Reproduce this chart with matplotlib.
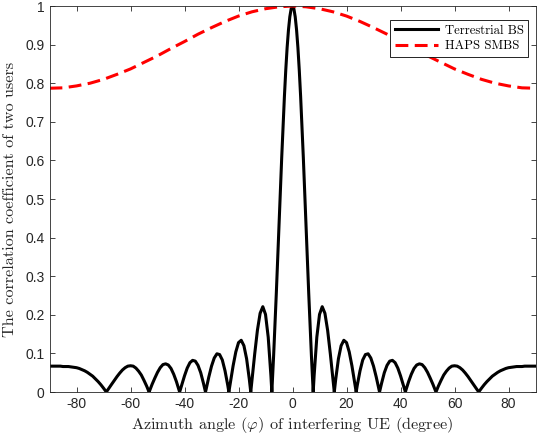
import numpy as np
import matplotlib
matplotlib.use("Agg")
import matplotlib.pyplot as plt

# azimuth angles (deg) for the terrestrial BS curve, positive half (curve is symmetric)
phi_half = [0, 0.5, 1, 1.5, 2, 2.5, 3, 4, 5, 6, 7, 7.66, 8, 9, 10, 11, 12, 13, 14, 15, 15.47,
            16, 17, 18, 19, 20, 21, 22, 23, 23.58, 24, 25, 26, 27, 28, 29, 30, 31, 32, 32.23,
            33, 34, 35, 36, 37, 38, 39, 40, 41, 41.81, 42, 43, 44, 45, 46, 47, 48, 49, 50,
            51, 52, 53, 53.13, 54, 55, 56, 57, 58, 59, 60, 61, 62, 63, 64, 65, 66, 67, 68,
            68.96, 70, 71, 72, 73, 74, 75, 76, 77, 78, 79, 80, 81, 82, 83, 84, 85, 86, 87,
            88, 89, 90]
bs_half = [1.0, 0.993, 0.972, 0.938, 0.892, 0.834, 0.766, 0.608, 0.433, 0.256, 0.094, 0.0,
           0.042, 0.142, 0.201, 0.221, 0.204, 0.160, 0.099, 0.031, 0.0,
           0.033, 0.086, 0.120, 0.134, 0.128, 0.104, 0.068, 0.025, 0.0,
           0.018, 0.055, 0.083, 0.097, 0.099, 0.088, 0.067, 0.039, 0.007, 0.0,
           0.023, 0.050, 0.069, 0.080, 0.082, 0.076, 0.062, 0.042, 0.019, 0.0,
           0.005, 0.027, 0.046, 0.061, 0.070, 0.073, 0.071, 0.063, 0.051,
           0.036, 0.020, 0.002, 0.0,
           0.015, 0.030, 0.044, 0.054, 0.062, 0.067, 0.068, 0.067, 0.063, 0.057, 0.049,
           0.040, 0.030, 0.020, 0.010, 0.0,
           0.010, 0.019, 0.027, 0.034, 0.041, 0.046, 0.051, 0.055, 0.058, 0.061, 0.063,
           0.064, 0.065, 0.066, 0.066, 0.066, 0.067, 0.067, 0.067, 0.067, 0.067]

# HAPS SMBS curve, positive half
phi_haps_half = [0, 5, 10, 15, 20, 25, 30, 35, 40, 45, 50, 55, 60, 65, 70, 75, 80, 85, 90]
haps_half = [1.0, 0.998, 0.993, 0.985, 0.974, 0.960, 0.944, 0.927, 0.908, 0.890,
             0.871, 0.854, 0.837, 0.823, 0.810, 0.800, 0.793, 0.788, 0.787]

# mirror to full -90..90 range
phi_bs = np.concatenate([-np.array(phi_half[:0:-1]), phi_half])
bs = np.concatenate([bs_half[:0:-1], bs_half])
phi_haps = np.concatenate([-np.array(phi_haps_half[:0:-1]), phi_haps_half])
haps = np.concatenate([haps_half[:0:-1], haps_half])

plt.rcParams['axes.unicode_minus'] = False
plt.rcParams['mathtext.fontset'] = 'cm'
plt.rcParams['font.family'] = 'Liberation Sans'

fig = plt.figure(figsize=(5.4, 4.36), dpi=100)
ax = fig.add_axes([0.0917, 0.1009, 0.9, 0.8853])

ax.plot(phi_bs, bs, color='black', linewidth=2.2, label='Terrestrial BS')
ax.plot(phi_haps, haps, color='red', linewidth=2.2, dashes=(4.2, 2.1), label='HAPS SMBS')

ax.set_xlim(-90, 90)
ax.set_ylim(0, 1)
ax.set_xticks(np.arange(-80, 81, 20))
ax.set_yticks(np.arange(0, 1.01, 0.1))
ax.set_yticklabels(['0', '0.1', '0.2', '0.3', '0.4', '0.5', '0.6', '0.7', '0.8', '0.9', '1'])

axis_col = '#262626'
for sp in ax.spines.values():
    sp.set_color(axis_col)
    sp.set_linewidth(0.6)
ax.tick_params(direction='in', top=True, right=True, length=3.5, width=0.6,
               colors=axis_col, labelsize=10)

ax.set_xlabel(r'Azimuth angle ($\varphi$) of interfering UE (degree)',
              family='cmr10', fontsize=11.7, color=axis_col, labelpad=3)
ax.set_ylabel('The correlation coefficient of two users',
              family='cmr10', fontsize=11.7, color=axis_col, labelpad=6)

leg = ax.legend(loc='upper right', bbox_to_anchor=(0.985, 0.964), prop={'family': 'cmr10', 'size': 9.2},
                fancybox=False, framealpha=1, edgecolor='black', handlelength=3.4,
                borderpad=0.35, labelspacing=0.3, handletextpad=0.5, borderaxespad=0)
leg.get_frame().set_linewidth(0.6)

fig.savefig('out.png', dpi=100)
